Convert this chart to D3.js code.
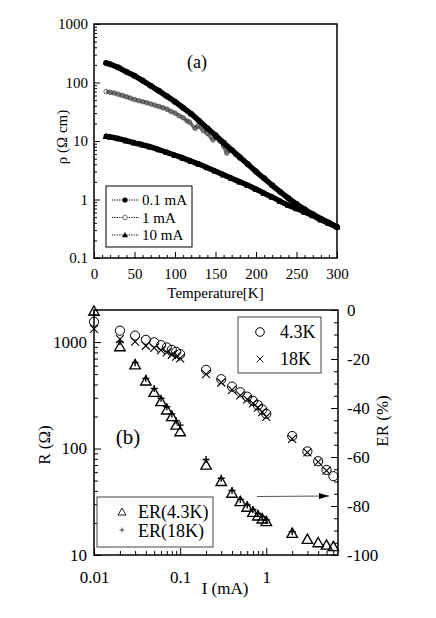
<!DOCTYPE html>
<html>
<head>
<meta charset="utf-8">
<script src="https://cdn.jsdelivr.net/npm/d3@7"></script>
<style>
body { margin: 0; background: #fff; }
svg text { font-family: "Liberation Serif", "Times New Roman", serif; fill: #000; }
</style>
</head>
<body>
<script>
// ---- panel (a) data: resistivity vs temperature ----
let tempsA = [15,20,30,40,50,60,70,80,90,100,110,120,130,140,150,160,170,180,190,200,210,220,230,240,250,260,270,280,290,300];
let rho01mA = [215,205,180,152,130,108,88,72,58,47,37,29,22,16.5,12.5,9.3,7.0,5.3,4.0,3.0,2.3,1.75,1.35,1.05,0.84,0.68,0.56,0.47,0.40,0.34];
let rho10mA = [12,11.7,11.0,10.1,9.3,8.6,7.9,7.1,6.4,5.7,5.1,4.5,4.0,3.5,3.05,2.65,2.3,2.0,1.75,1.5,1.28,1.1,0.93,0.8,0.7,0.61,0.53,0.45,0.39,0.34];
let temps1mA = [15,20,25,30,35,40,45,50,55,60,65,70,75,80,85,90,95,100,105,110,115,118,125,128,135,140,147,150,155,160,164,168,175,180,190];
let rho1mA = [70,68,66,63,60,57,54,51,49,47,45,43,41,39,37,35,32,30,27,25,22,21,16.5,18,15,13.5,10.4,11.5,10,8.2,6.2,7,5.8,5.1,4.0];
let legendA = ["0.1 mA", "1 mA", "10 mA"];
let rhoTicks = [0.1, 1, 10, 100, 1000];
let tempTicks = [0, 50, 100, 150, 200, 250, 300];

// ---- panel (b) data: resistance and ER vs current ----
let currents = [0.01,0.02,0.03,0.04,0.05,0.06,0.07,0.08,0.09,0.1,0.2,0.3,0.4,0.5,0.6,0.7,0.8,0.9,1,2,3,4,5,6];
let r43K = [1550,1280,1150,1050,995,935,890,845,810,770,548,448,382,338,307,280,255,233,212,131,94,76,63,55];
let r18K = [1330,1067,1007,923,880,840,800,760,730,701,499,417,356,316,290,266,242,220,198,123,92,75,62];
let er43K = [-0.5,-15,-22.4,-29,-33.6,-37.4,-40.8,-43.5,-47,-49.7,-63.3,-70,-74.8,-78.2,-80.5,-82.6,-84.1,-85.3,-86.4,-91.2,-93.6,-95,-96,-96.6];
let er18K = [-2,-13,-21.5,-27.9,-32,-36,-39.5,-42.4,-45.2,-47,-61,-68.7,-73.7,-77.3,-79.6,-81.4,-83,-84.4,-85.7,-90.5];
let rTicks = [10, 100, 1000];
let iTicks = [0.01, 0.1, 1];
let erTicks = [0, -20, -40, -60, -80, -100];

let serif = '"Liberation Serif", "Times New Roman", serif';

let svg = d3.select("body").append("svg")
	.attr("width", 436)
	.attr("height", 618);

//helper: ticks pointing into the plot, optional labels
function addAxis(axisFn, scale, values, len, fmt, pad, size, tr) {
	let axis = axisFn(scale)
		.tickValues(values)
		.tickSize(-len)
		.tickPadding(pad)
		.tickFormat(fmt || (() => ""));
	let ag = svg.append("g")
		.attr("transform", tr)
		.attr("font-family", serif)
		.call(axis);
	ag.select(".domain").remove();
	ag.selectAll("line").attr("stroke", "#000").attr("stroke-width", 1);
	ag.selectAll("text").attr("font-size", size).attr("fill", "#000");
	return ag;
}

function logMinors(decades, max) {
	let out = [];
	decades.forEach(d => { for (let k = 2; k <= 9; k++) if (d * k <= max) out.push(d * k); });
	return out;
}

let triPath = "M0,-5L5,3.8L-5,3.8Z";
let timesPath = "M-4,-4L4,4M-4,4L4,-4";
let plusPath = "M-3.5,0L3.5,0M0,-3.5L0,3.5";

/*
	PANEL (a)
*/
let a = {left: 94, right: 337, top: 24, bottom: 258};

let xA = d3.scaleLinear().domain([0, 300]).range([a.left, a.right]);
let yA = d3.scaleLog().domain([0.1, 1000]).range([a.bottom, a.top]);

addAxis(d3.axisLeft, yA, rhoTicks, 6, d => String(d), 6, 15, `translate(${a.left},0)`);
addAxis(d3.axisLeft, yA, logMinors([0.1, 1, 10, 100], 1000), 3, null, 0, 15, `translate(${a.left},0)`);
addAxis(d3.axisBottom, xA, tempTicks, 6, d => String(d), 10, 15, `translate(0,${a.bottom})`);
addAxis(d3.axisBottom, xA, d3.range(0, 301, 10).filter(d => d % 50), 3, null, 0, 15, `translate(0,${a.bottom})`);

let lineA = d3.line().curve(d3.curveMonotoneX);

//1 mA: grey open circles
let pts1 = temps1mA.map((t, i) => [xA(t), yA(rho1mA[i])]);
svg.append("path")
	.attr("d", lineA(pts1))
	.attr("fill", "none")
	.attr("stroke", "#707070")
	.attr("stroke-width", 3.5);
svg.append("g").selectAll("circle")
	.data(pts1)
	.join("circle")
	.attr("cx", d => d[0])
	.attr("cy", d => d[1])
	.attr("r", 2.3)
	.attr("fill", "none")
	.attr("stroke", "#444")
	.attr("stroke-width", 0.8);

//0.1 mA and 10 mA: dense black markers form a thick line
[[rho01mA, "circle"], [rho10mA, "tri"]].forEach(([vals, shape]) => {
	let pts = tempsA.map((t, i) => [xA(t), yA(vals[i])]);
	svg.append("path")
		.attr("d", lineA(pts))
		.attr("fill", "none")
		.attr("stroke", "#000")
		.attr("stroke-width", 5.5)
		.attr("stroke-linecap", "round");
	let g = svg.append("g");
	if (shape == "circle") {
		g.selectAll("circle").data(pts).join("circle")
			.attr("cx", d => d[0]).attr("cy", d => d[1]).attr("r", 3);
	} else {
		g.selectAll("path").data(pts).join("path")
			.attr("d", triPath)
			.attr("transform", d => `translate(${d[0]},${d[1]}) scale(0.7)`);
	}
});

svg.append("rect")
	.attr("x", a.left).attr("y", a.top)
	.attr("width", a.right - a.left).attr("height", a.bottom - a.top)
	.attr("fill", "none").attr("stroke", "#000").attr("stroke-width", 1.5);

svg.append("text").text("(a)")
	.attr("x", 197).attr("y", 68)
	.attr("text-anchor", "middle").attr("font-size", 18);

svg.append("text").text("Temperature[K]")
	.attr("x", (a.left + a.right) / 2).attr("y", 298)
	.attr("text-anchor", "middle").attr("font-size", 15);

svg.append("text").text("ρ (Ω cm)")
	.attr("transform", "translate(67,137) rotate(-90)")
	.attr("text-anchor", "middle").attr("font-size", 15);

//legend (a)
let legA = svg.append("g").attr("transform", "translate(106,186)");
legA.append("rect").attr("width", 86).attr("height", 61)
	.attr("fill", "#fff").attr("stroke", "#000").attr("stroke-width", 1);
legendA.forEach((name, i) => {
	let y = 14 + i * 17.5;
	legA.append("line")
		.attr("x1", 6).attr("x2", 33).attr("y1", y).attr("y2", y)
		.attr("stroke", "#000").attr("stroke-width", 1).attr("stroke-dasharray", "1.2,1.2");
	if (i == 0) legA.append("circle").attr("cx", 19).attr("cy", y).attr("r", 2.6).attr("fill", "#000");
	if (i == 1) legA.append("circle").attr("cx", 19).attr("cy", y).attr("r", 2.3)
		.attr("fill", "#fff").attr("stroke", "#666").attr("stroke-width", 0.9);
	if (i == 2) legA.append("path").attr("d", triPath)
		.attr("transform", `translate(19,${y}) scale(0.6)`).attr("fill", "#000");
	legA.append("text").text(name)
		.attr("x", 36).attr("y", y + 5).attr("font-size", 15);
});

/*
	PANEL (b)
*/
let b = {left: 94, right: 338, top: 310, bottom: 555};

let xB = d3.scaleLog().domain([0.01, 6.8]).range([b.left, b.right]);
let yB = d3.scaleLog().domain([10, 2000]).range([b.bottom, b.top]);
let yER = d3.scaleLinear().domain([-100, 0]).range([b.bottom, b.top]);

addAxis(d3.axisLeft, yB, rTicks, 7, d => String(d), 7, 17, `translate(${b.left},0)`);
addAxis(d3.axisLeft, yB, logMinors([10, 100, 1000], 2000), 4, null, 0, 17, `translate(${b.left},0)`);
addAxis(d3.axisBottom, xB, iTicks, 7, d => String(d), 16, 17, `translate(0,${b.bottom})`);
addAxis(d3.axisBottom, xB, logMinors([0.01, 0.1, 1], 6.8), 4, null, 0, 17, `translate(0,${b.bottom})`);
addAxis(d3.axisRight, yER, erTicks, 7, d => d == 0 ? "0" : "-" + Math.abs(d), 9, 17, `translate(${b.right},0)`);
addAxis(d3.axisRight, yER, d3.range(-95, 0, 5).filter(d => d % 20), 4, null, 0, 17, `translate(${b.right},0)`);

//R at 4.3K: open circles
svg.append("g").selectAll("circle")
	.data(r43K)
	.join("circle")
	.attr("cx", (d, i) => xB(currents[i]))
	.attr("cy", d => yB(d))
	.attr("r", 4.6)
	.attr("fill", "none")
	.attr("stroke", "#000")
	.attr("stroke-width", 1);

//R at 18K: crosses
svg.append("g").selectAll("path")
	.data(r18K)
	.join("path")
	.attr("d", timesPath)
	.attr("transform", (d, i) => `translate(${xB(currents[i])},${yB(d)})`)
	.attr("stroke", "#000")
	.attr("stroke-width", 1.1);

//ER at 4.3K: open triangles
svg.append("g").selectAll("path")
	.data(er43K)
	.join("path")
	.attr("d", triPath)
	.attr("transform", (d, i) => `translate(${xB(currents[i])},${yER(d)}) scale(1.05)`)
	.attr("fill", "none")
	.attr("stroke", "#000")
	.attr("stroke-width", 1.3);

//ER at 18K: plus signs
svg.append("g").selectAll("path")
	.data(er18K)
	.join("path")
	.attr("d", plusPath)
	.attr("transform", (d, i) => `translate(${xB(currents[i])},${yER(d)})`)
	.attr("stroke", "#000")
	.attr("stroke-width", 1.4);

svg.append("rect")
	.attr("x", b.left).attr("y", b.top)
	.attr("width", b.right - b.left).attr("height", b.bottom - b.top)
	.attr("fill", "none").attr("stroke", "#000").attr("stroke-width", 1.5);

//arrow pointing at the right (ER) axis
svg.append("defs").append("marker")
	.attr("id", "head")
	.attr("viewBox", "0 0 10 6")
	.attr("refX", 10).attr("refY", 3)
	.attr("markerWidth", 10).attr("markerHeight", 6)
	.attr("markerUnits", "userSpaceOnUse")
	.attr("orient", "auto")
	.append("path").attr("d", "M0,0L10,3L0,6Z").attr("fill", "#000");
svg.append("line")
	.attr("x1", 257).attr("y1", 496.5).attr("x2", 329).attr("y2", 496)
	.attr("stroke", "#555").attr("stroke-width", 1)
	.attr("marker-end", "url(#head)");

svg.append("text").text("(b)")
	.attr("x", 128).attr("y", 444)
	.attr("text-anchor", "middle").attr("font-size", 21);

svg.append("text").text("I (mA)")
	.attr("x", 225).attr("y", 594)
	.attr("text-anchor", "middle").attr("font-size", 17);

svg.append("text").text("R  (Ω)")
	.attr("transform", "translate(50,445) rotate(-90)")
	.attr("text-anchor", "middle").attr("font-size", 17);

svg.append("text").text("ER (%)")
	.attr("transform", "translate(388,421) rotate(-90)")
	.attr("text-anchor", "middle").attr("font-size", 17);

//legend top right
let legB1 = svg.append("g").attr("transform", "translate(238,317)");
legB1.append("rect").attr("width", 83).attr("height", 56)
	.attr("fill", "#fff").attr("stroke", "#444").attr("stroke-width", 1);
legB1.append("circle").attr("cx", 22).attr("cy", 15).attr("r", 4.3)
	.attr("fill", "none").attr("stroke", "#000");
legB1.append("text").text("4.3K").attr("x", 42).attr("y", 21).attr("font-size", 18);
legB1.append("path").attr("d", timesPath).attr("transform", "translate(22,42) scale(0.85)")
	.attr("stroke", "#000").attr("stroke-width", 1.1);
legB1.append("text").text("18K").attr("x", 42).attr("y", 48).attr("font-size", 18);

//legend bottom left
let legB2 = svg.append("g").attr("transform", "translate(97,497)");
legB2.append("rect").attr("width", 116).attr("height", 50)
	.attr("fill", "#fff").attr("stroke", "#444").attr("stroke-width", 1);
legB2.append("path").attr("d", triPath).attr("transform", "translate(25,15) scale(0.8)")
	.attr("fill", "none").attr("stroke", "#000").attr("stroke-width", 1.1);
legB2.append("text").text("ER(4.3K)").attr("x", 41).attr("y", 21).attr("font-size", 18);
legB2.append("path").attr("d", plusPath).attr("transform", "translate(25,33) scale(0.7)")
	.attr("stroke", "#000").attr("stroke-width", 1);
legB2.append("text").text("ER(18K)").attr("x", 41).attr("y", 40).attr("font-size", 18);
</script>
</body>
</html>
